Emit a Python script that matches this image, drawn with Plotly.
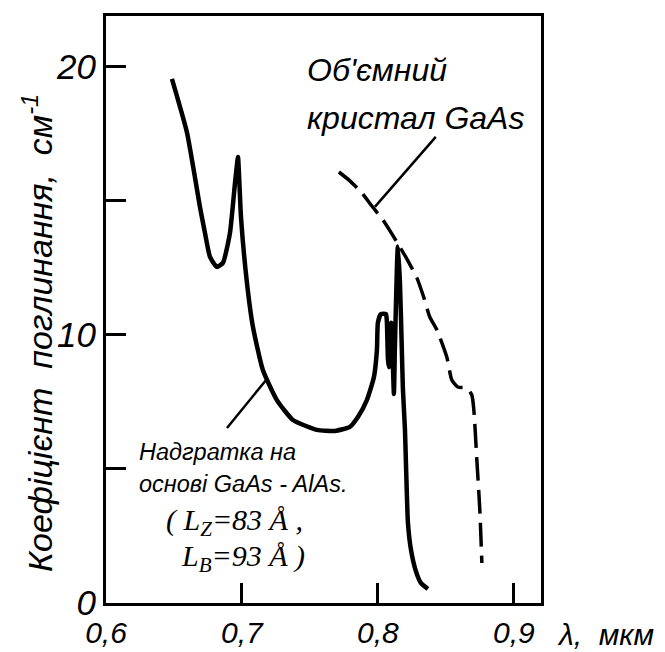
import plotly.graph_objects as go

# Superlattice GaAs-AlAs (solid curve)
sl_lambda = [0.6485, 0.6596, 0.6691, 0.6728, 0.6765, 0.6816, 0.6860, 0.6912, 0.6949, 0.6971,
             0.6978, 0.6993, 0.7037, 0.7081, 0.7154, 0.7257, 0.7375, 0.7551, 0.7684, 0.7794,
             0.7853, 0.7919, 0.7971, 0.7993, 0.8000, 0.8022, 0.8059, 0.8066, 0.8074, 0.8081,
             0.8088, 0.8096, 0.8103, 0.8110, 0.8118, 0.8125, 0.8140, 0.8147, 0.8162, 0.8176,
             0.8184, 0.8199, 0.8206, 0.8213, 0.8221, 0.8243, 0.8279, 0.8316, 0.8368]
sl_alpha = [19.55, 17.54, 14.78, 13.81, 12.91, 12.54, 12.69, 13.81, 15.67, 16.64,
            16.04, 14.40, 11.94, 10.30, 8.69, 7.57, 6.83, 6.46, 6.42, 6.57,
            6.94, 7.57, 8.43, 9.44, 10.45, 10.78, 10.78, 10.52, 9.10, 8.80,
            9.50, 10.45, 10.40, 9.00, 7.80, 9.50, 12.50, 13.30, 12.00, 9.50,
            8.00, 6.50, 5.30, 4.10, 3.00, 2.00, 1.20, 0.75, 0.52]

# Bulk GaAs crystal (dashed curve)
bulk_lambda = [0.7713, 0.7794, 0.7882, 0.7956, 0.8037, 0.8103, 0.8162, 0.8213, 0.8287, 0.8338,
               0.8382, 0.8434, 0.8507, 0.8544, 0.8588, 0.8654, 0.8691, 0.8706, 0.8728, 0.8750,
               0.8765]
bulk_alpha = [16.08, 15.75, 15.30, 14.81, 14.29, 13.77, 13.28, 12.84, 12.13, 11.40,
              10.67, 10.19, 9.18, 8.32, 8.06, 8.02, 7.76, 7.20, 5.34, 3.47,
              1.49]

x_tickvals = [0.6, 0.7, 0.8, 0.9]
x_ticktext = ["0,6", "0,7", "0,8", "0,9"]
y_tickvals = [0, 5, 10, 15, 20]
y_ticktext = ["0", "", "10", "", "20"]

SANS = "Liberation Sans, Arial, sans-serif"
SERIF = "Liberation Serif, Times New Roman, serif"

fig = go.Figure()
fig.add_trace(go.Scatter(x=sl_lambda, y=sl_alpha, mode="lines",
                         line=dict(color="black", width=4.5, shape="spline", smoothing=0.5),
                         showlegend=False))
fig.add_trace(go.Scatter(x=bulk_lambda, y=bulk_alpha, mode="lines",
                         line=dict(color="black", width=3.5, dash="24px,9px",
                                   shape="spline", smoothing=0.6),
                         showlegend=False))

# leader lines
fig.add_shape(type="line", x0=0.8426, y0=17.39, x1=0.7978, y1=14.78,
              line=dict(color="black", width=2.5))
fig.add_shape(type="line", x0=0.6890, y0=6.53, x1=0.7184, y1=8.36,
              line=dict(color="black", width=2.5))

def px2paper(px, py):
    return (px - 106) / 435.0, (603 - py) / 587.0

def add_text(text, px, py, size, family=SANS, xanchor="left", style="italic", angle=0):
    xp, yp = px2paper(px, py)
    fig.add_annotation(text=text, x=xp, y=yp, xref="paper", yref="paper",
                       xanchor=xanchor, yanchor="middle", showarrow=False,
                       textangle=angle,
                       font=dict(family=family, size=size, color="black", style=style))

add_text("Об'ємний", 305, 70, 32)
add_text("кристал GaAs", 305, 118, 32)
add_text("Надгратка на", 137, 452, 23.5)
add_text("основі GaAs - AlAs.", 137, 484, 23.5)
add_text("( L<sub>Z</sub>=83 Å ,", 234, 522, 30, family=SERIF, xanchor="center")
add_text("L<sub>B</sub>=93 Å )", 243, 558, 30, family=SERIF, xanchor="center")
add_text("λ,  мкм", 555, 634, 30)
add_text("Коефіцієнт  поглинання,  см<sup>-1</sup>", 37, 333, 34, xanchor="center", angle=-90)

fig.update_xaxes(range=[0.6, 0.92], tickvals=x_tickvals, ticktext=x_ticktext,
                 ticks="inside", ticklen=20, tickwidth=3, tickcolor="black",
                 showline=True, linewidth=3, linecolor="black", mirror=True,
                 showgrid=False, zeroline=False, ticklabelstandoff=1, automargin=False,
                 tickfont=dict(family=SANS, size=30, color="black", style="italic"))
fig.update_yaxes(range=[0, 21.9], tickvals=y_tickvals, ticktext=y_ticktext,
                 ticks="inside", ticklen=20, tickwidth=3, tickcolor="black",
                 showline=True, linewidth=3, linecolor="black", mirror=True,
                 showgrid=False, zeroline=False, automargin=False,
                 tickfont=dict(family=SANS, size=35, color="black", style="italic"))

fig.update_layout(width=665, height=652, margin=dict(l=106, r=124, t=16, b=49),
                  plot_bgcolor="white", paper_bgcolor="white")

fig.write_html("out.html")
